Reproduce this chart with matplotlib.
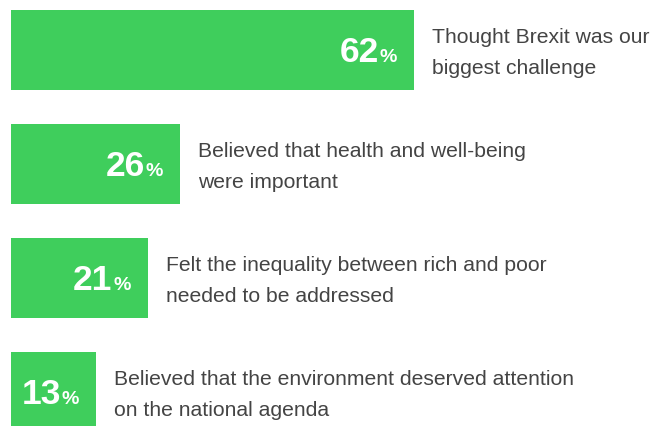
import matplotlib
matplotlib.use("Agg")
import matplotlib.pyplot as plt

values = [62, 26, 21, 13]
labels = [
    "Thought Brexit was our\nbiggest challenge",
    "Believed that health and well-being\nwere important",
    "Felt the inequality between rich and poor\nneeded to be addressed",
    "Believed that the environment deserved attention\non the national agenda",
]

GREEN = "#3FCE5C"
TEXT = "#444444"
FONT = "Liberation Sans"

W, H, DPI = 667, 426, 100
fig = plt.figure(figsize=(W / DPI, H / DPI), dpi=DPI)
ax = fig.add_axes([0, 0, 1, 1])
ax.set_axis_off()

px_per_unit = 6.5
left_px = 11
ax.set_xlim(-left_px / px_per_unit, (W - left_px) / px_per_unit)
row_px = 114
top_center_px = 50
ax.set_ylim((H - top_center_px) / row_px, -top_center_px / row_px)

ys = list(range(len(values)))
ax.barh(ys, values, height=80 / row_px, color=GREEN, left=0)

fig.canvas.draw()
renderer = fig.canvas.get_renderer()

for y, v, lab in zip(ys, values, labels):
    pct = ax.annotate("%", xy=(v, y), xytext=(-17, -12), textcoords="offset pixels",
                      ha="right", va="baseline", color="white", fontsize=14,
                      fontweight="bold", family=FONT)
    bb = pct.get_window_extent(renderer)
    w = bb.width
    ax.annotate(str(v), xy=(v, y), xytext=(-17 - w - 0.5, -12), textcoords="offset pixels",
                ha="right", va="baseline", color="white", fontsize=25.5,
                fontweight="bold", family=FONT)
    ax.annotate(lab, xy=(v, y), xytext=(18.5, -3), textcoords="offset pixels",
                ha="left", va="center", color=TEXT, fontsize=15.2,
                family=FONT, linespacing=1.83)

fig.savefig("out.png", dpi=DPI)
